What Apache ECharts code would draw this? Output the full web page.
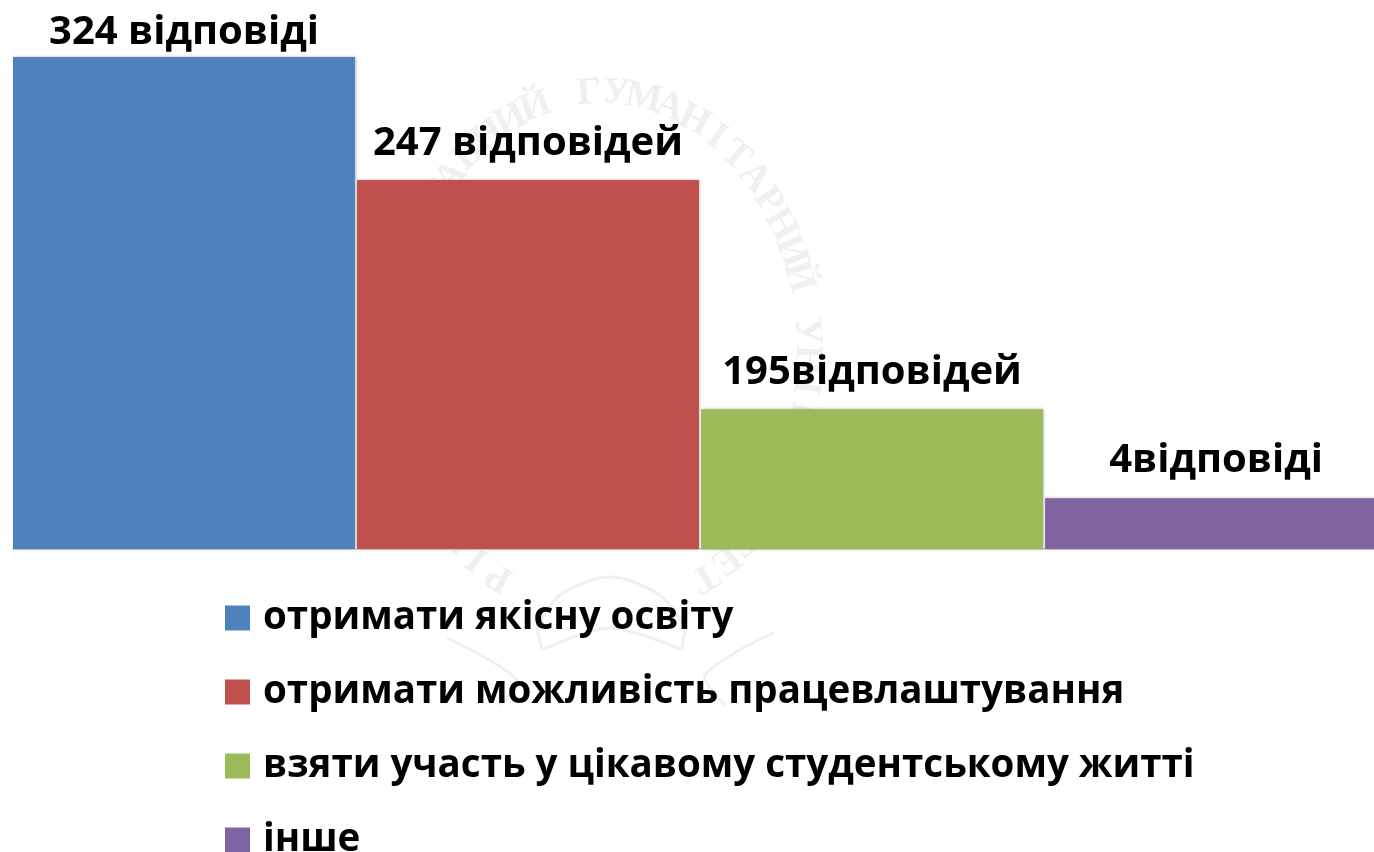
<!DOCTYPE html>
<html>
<head>
<meta charset="utf-8">
<script src="https://cdn.jsdelivr.net/npm/echarts@6/dist/echarts.min.js"></script>
<style>
  html, body { margin: 0; padding: 0; background: #fff; overflow: hidden; }
  #chart { width: 1374px; height: 852px; }
</style>
</head>
<body>
<div id="chart"></div>
<script>
// назви рядів (легенда)
const seriesNames = [
  'отримати якісну освіту',
  'отримати можливість працевлаштування',
  'взяти участь у цікавому студентському житті',
  'інше'
];
// висоти стовпців, як вони намальовані (не пропорційні підписам)
const barValues = [324, 243, 92, 33.5];
// підписи над стовпцями
const barLabels = ['324 відповіді', '247 відповідей', '195відповідей', '4відповіді'];
const barColors = ['#4f81bd', '#c0504d', '#9bbb59', '#8064a2'];
const labelGaps = [4, 16, 17, 18];
const sealText = 'РІВНЕНСЬКИЙ ДЕРЖАВНИЙ ГУМАНІТАРНИЙ УНІВЕРСИТЕТ';

const fontName = '"Open Sans", "Noto Sans", sans-serif';

// водяний знак: напис по еліпсу, кроки однакової довжини дуги
function sealLetters() {
  const cx = 602, cy = 352, rx = 205, ry = 259;
  const span = 150 * Math.PI / 180;
  const pts = [];
  let total = 0;
  for (let k = 0; k <= 1000; k++) {
    const a = -span + 2 * span * k / 1000;
    const p = { a: a, x: cx + rx * Math.sin(a), y: cy - ry * Math.cos(a) };
    if (k > 0) total += Math.hypot(p.x - pts[k - 1].x, p.y - pts[k - 1].y);
    p.s = total;
    pts.push(p);
  }
  const n = sealText.length;
  return sealText.split('').map((ch, i) => {
    const target = total * i / (n - 1);
    const p = pts.find(q => q.s >= target) || pts[1000];
    return {
      type: 'text',
      x: p.x,
      y: p.y,
      rotation: -p.a,
      z: 0,
      style: {
        text: ch,
        fill: '#f0f0f0',
        font: '700 39px "Liberation Serif", serif',
        align: 'center',
        verticalAlign: 'middle'
      }
    };
  });
}

// стрічка внизу печатки
function sealRibbon() {
  const lines = [
    [[537, 628], [560, 595], [610, 577], [660, 595], [685, 628]],
    [[537, 628], [542, 650]],
    [[685, 628], [682, 650]],
    [[542, 650], [610, 628], [682, 650]],
    [[447, 638], [517, 680], [500, 705]],
    [[775, 632], [705, 675], [725, 705]]
  ];
  return lines.map(points => ({
    type: 'polyline',
    z: 0,
    shape: { points: points, smooth: 0.3 },
    style: { stroke: '#f0f0f0', lineWidth: 3, fill: null }
  }));
}

const chart = echarts.init(document.getElementById('chart'));
chart.setOption({
  animation: false,
  backgroundColor: '#fff',
  textStyle: { fontFamily: fontName },
  graphic: { elements: sealLetters().concat(sealRibbon()) },
  // окрема легенда на кожен рядок, крок 74px
  legend: seriesNames.map((name, i) => ({
    orient: 'vertical',
    left: 220,
    top: 588 + 74 * i,
    itemWidth: 25,
    itemHeight: 25,
    icon: 'rect',
    selectedMode: false,
    data: [name],
    formatter: '{t|{name}}',
    textStyle: {
      rich: {
        t: {
          fontSize: 38.5,
          fontWeight: 700,
          color: '#000',
          fontFamily: fontName,
          lineHeight: 50,
          height: 50,
          padding: [0, 0, 0, 8]
        }
      }
    }
  })),
  grid: { left: 13, top: 57, width: 1374, height: 492, outerBoundsMode: 'none' },
  xAxis: {
    type: 'category',
    data: [''],
    axisTick: { show: false },
    axisLabel: { show: false },
    axisLine: { lineStyle: { color: '#d9d9d9', width: 2 } }
  },
  yAxis: {
    type: 'value',
    min: 0,
    max: 324,
    show: false,
    splitLine: { show: false }
  },
  series: seriesNames.map((name, i) => ({
    name: name,
    type: 'bar',
    data: [barValues[i]],
    barWidth: 342,
    barGap: '0.6%',
    itemStyle: {
      color: barColors[i],
      shadowBlur: 3,
      shadowColor: 'rgba(0,0,0,0.28)',
      shadowOffsetX: 1
    },
    label: {
      show: true,
      position: 'top',
      distance: labelGaps[i],
      formatter: barLabels[i],
      fontSize: 40,
      fontWeight: 700,
      color: '#000',
      fontFamily: fontName
    }
  }))
});
</script>
</body>
</html>
